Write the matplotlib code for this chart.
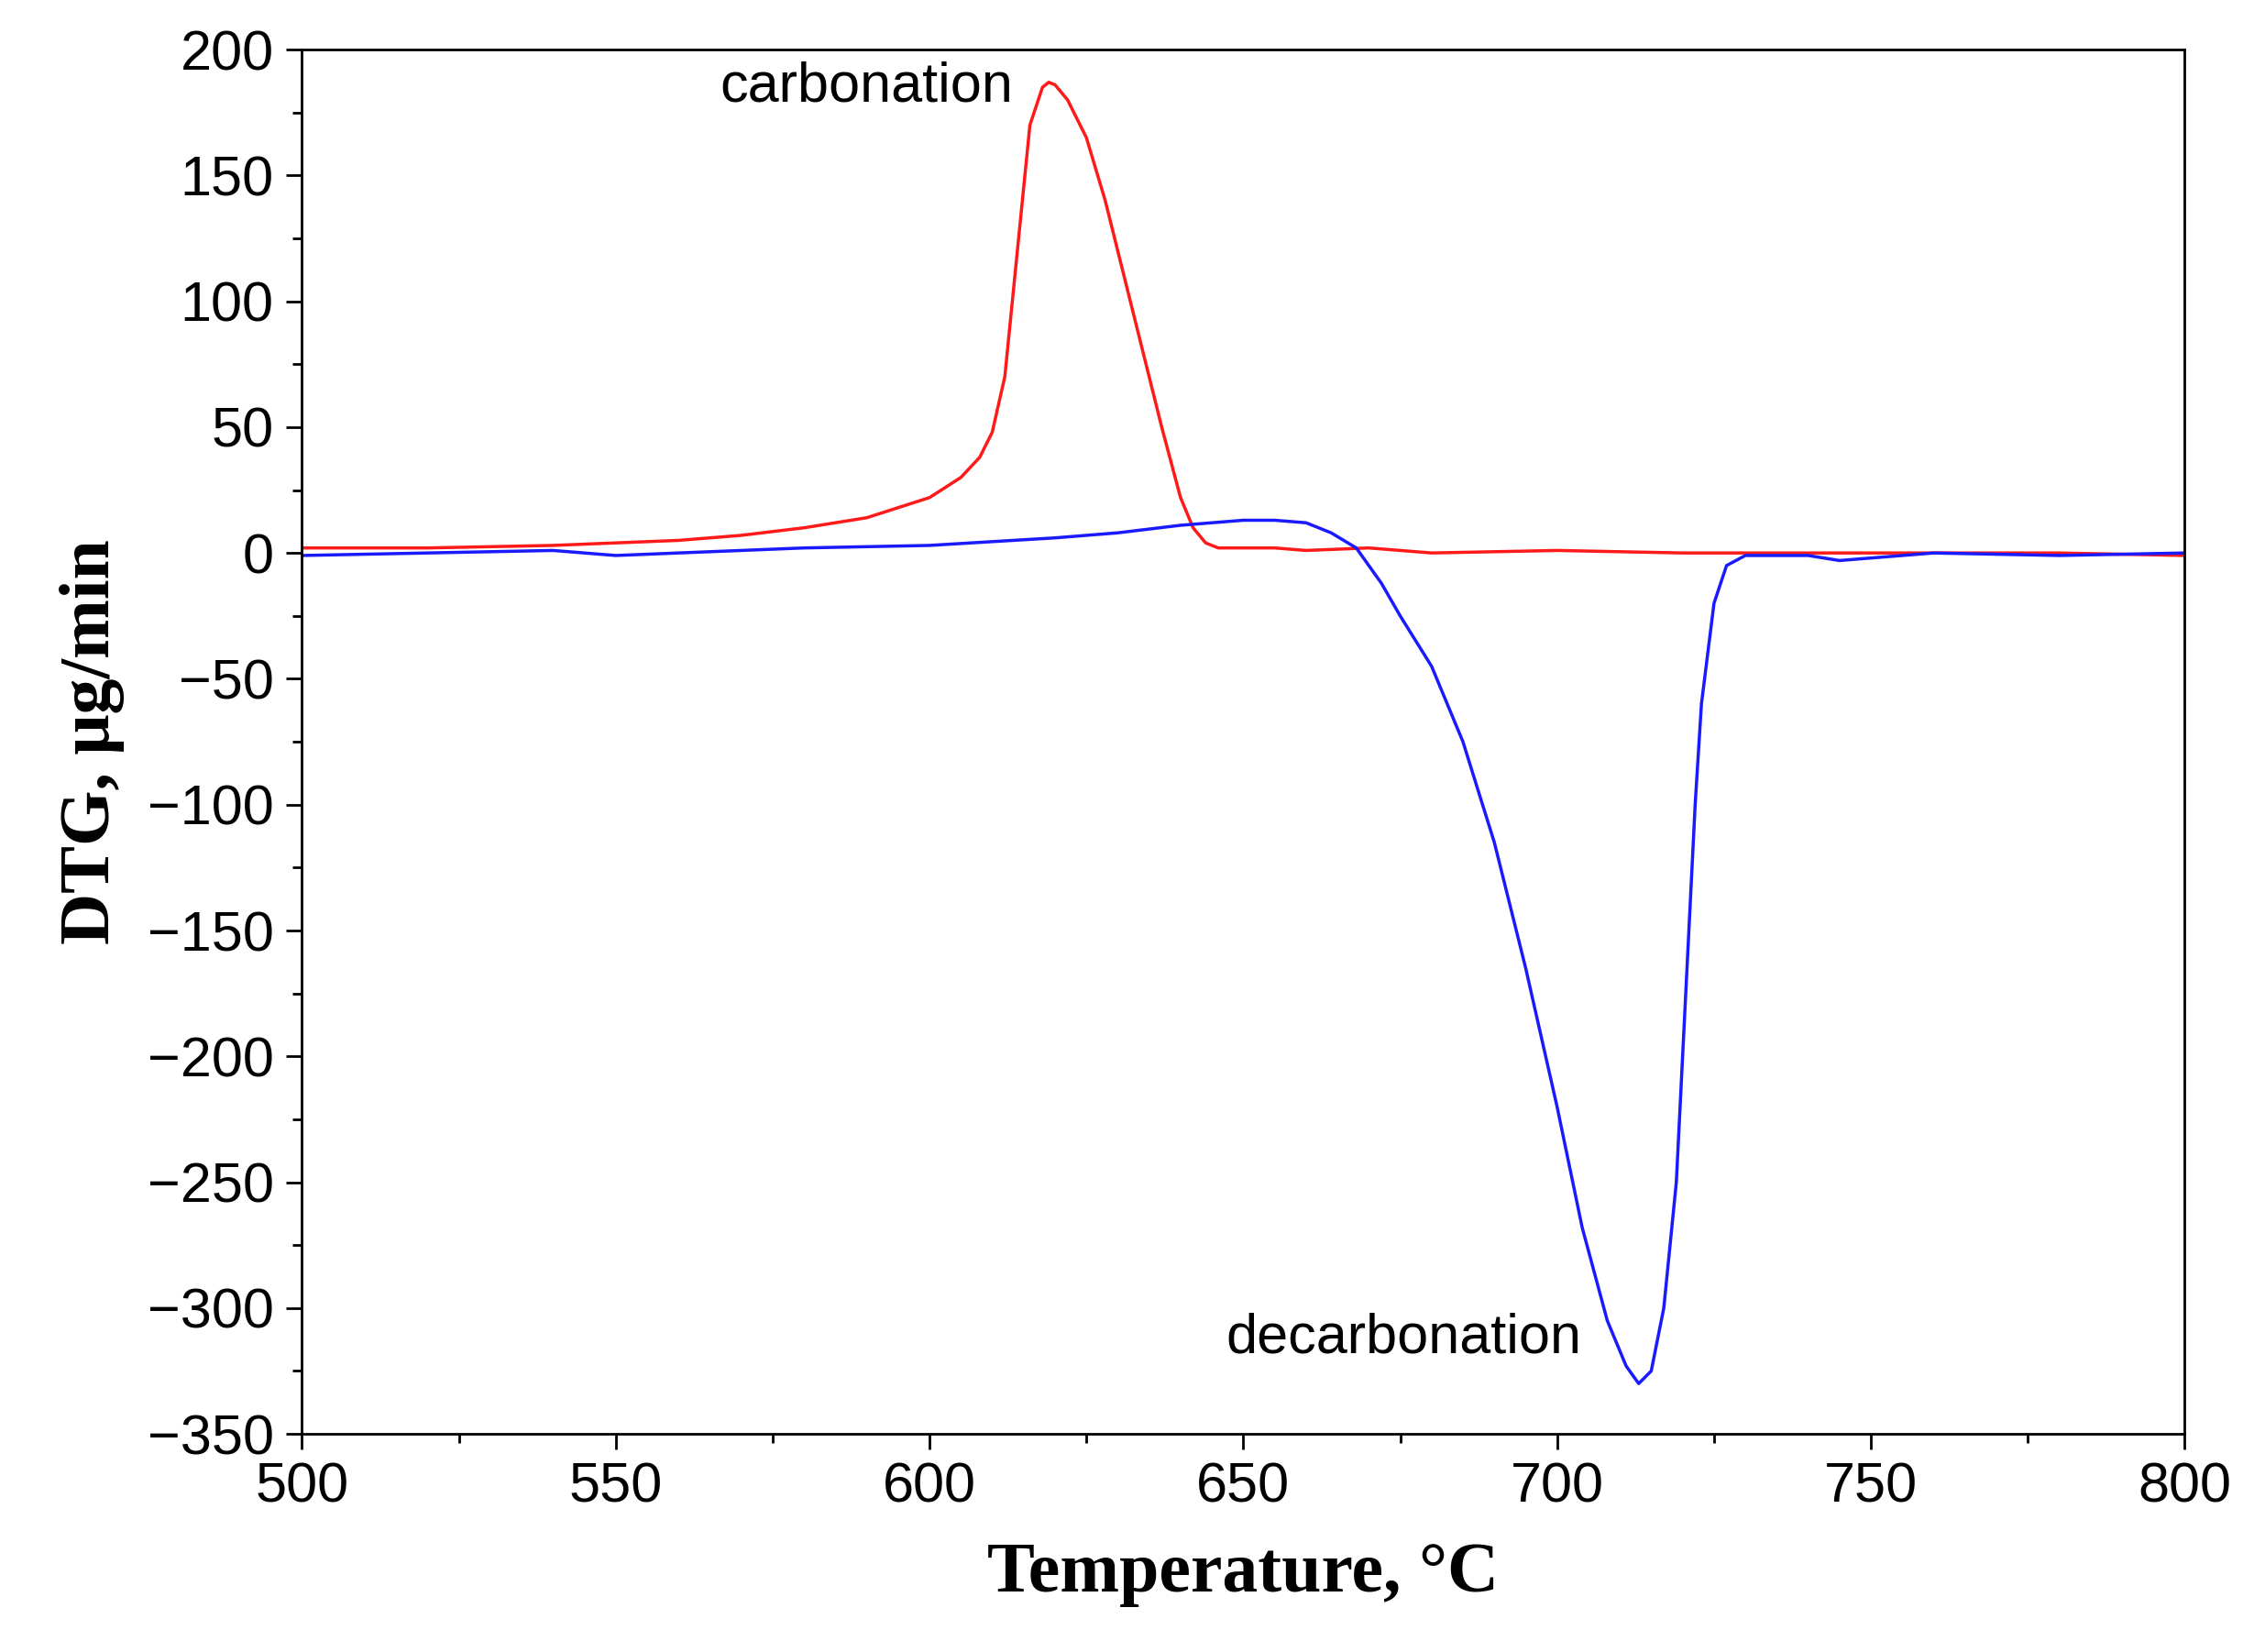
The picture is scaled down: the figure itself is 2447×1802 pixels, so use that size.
import matplotlib
matplotlib.use("Agg")
import matplotlib.pyplot as plt
from matplotlib.ticker import MultipleLocator

red_t = [500,520,540,560,570,580,590,600,605,608,610,612,614,616,618,619,620,622,625,628,631,634,637,640,642,644,646,650,655,660,670,680,700,720,750,780,800]
red_v = [2,2,3,5,7,10,14,22,30,38,48,70,120,170,185,187,186,180,165,140,110,80,50,22,10,4,2,2,2,1,2,0,1,0,0,0,-1]
blue_t = [500,520,540,550,560,580,600,620,630,640,650,655,660,664,668,670,672,675,680,685,690,695,700,704,708,711,713,715,717,719,720,721,722,723,725,727,730,740,745,760,780,800]
blue_v = [-1,0,1,-1,0,2,3,6,8,11,13,13,12,8,2,-5,-12,-25,-45,-75,-115,-165,-220,-268,-305,-323,-330,-325,-300,-250,-200,-150,-100,-60,-20,-5,-1,-1,-3,0,-1,0]

fig = plt.figure(figsize=(24.47,18.02), dpi=100)
ax = fig.add_axes([0.1346,0.132,0.8394,0.838])
ax.plot(red_t, red_v, color='#ff1a1a', lw=2.5)
ax.plot(blue_t, blue_v, color='#1a1aff', lw=2.5)
ax.set_xlim(500,800); ax.set_ylim(-350,200)
ax.xaxis.set_major_locator(MultipleLocator(50)); ax.xaxis.set_minor_locator(MultipleLocator(25))
ax.yaxis.set_major_locator(MultipleLocator(50)); ax.yaxis.set_minor_locator(MultipleLocator(25))
ax.tick_params(which='major', length=12, width=2, labelsize=44, direction='out', pad=10)
ax.tick_params(which='minor', length=7, width=2, direction='out')
for s in ax.spines.values(): s.set_linewidth(2)
ax.yaxis.set_major_formatter(matplotlib.ticker.FuncFormatter(lambda v,p: f"{int(v)}".replace('-', '\u2212')))
for lab in ax.get_xticklabels()+ax.get_yticklabels():
    lab.set_fontfamily('Liberation Sans')
ax.set_xlabel('Temperature, °C', fontfamily='Liberation Serif', fontweight='bold', fontsize=56, labelpad=22)
ax.set_ylabel('DTG, μg/min', fontfamily='Liberation Serif', fontweight='bold', fontsize=56, labelpad=18)
ax.text(590, 185, 'carbonation', fontfamily='Liberation Sans', fontsize=44, ha='center', va='center')
ax.text(675.5, -312, 'decarbonation', fontfamily='Liberation Sans', fontsize=44, ha='center', va='center')
fig.savefig('out.png', dpi=100)
